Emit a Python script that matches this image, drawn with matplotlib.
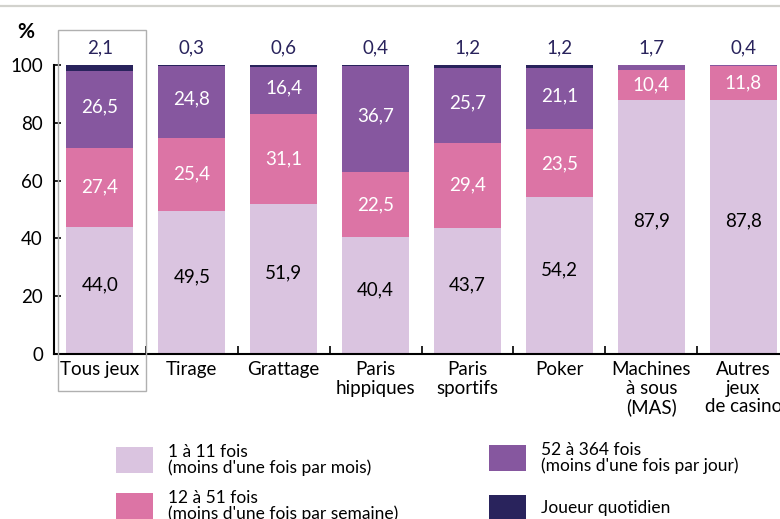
import matplotlib
matplotlib.use("Agg")
import matplotlib.pyplot as plt
from matplotlib.patches import Rectangle
from matplotlib.lines import Line2D
import numpy as np

plt.rcParams['font.family'] = ['Lato', 'DejaVu Sans']

categories = ["Tous jeux", "Tirage", "Grattage", "Paris\nhippiques", "Paris\nsportifs",
              "Poker", "Machines\nà sous\n(MAS)", "Autres\njeux\nde casino"]
s1 = [44.0, 49.5, 51.9, 40.4, 43.7, 54.2, 87.9, 87.8]   # 1 à 11 fois
s2 = [27.4, 25.4, 31.1, 22.5, 29.4, 23.5, 10.4, 11.8]   # 12 à 51 fois
s3 = [26.5, 24.8, 16.4, 36.7, 25.7, 21.1, 1.7, 0.4]     # 52 à 364 fois
s4 = [2.1, 0.3, 0.6, 0.4, 1.2, 1.2, 0.0, 0.0]           # Joueur quotidien
top_labels = ["2,1", "0,3", "0,6", "0,4", "1,2", "1,2", "1,7", "0,4"]

legend_labels = ["1 à 11 fois\n(moins d'une fois par mois)",
                 "12 à 51 fois\n(moins d'une fois par semaine)",
                 "52 à 364 fois\n(moins d'une fois par jour)",
                 "Joueur quotidien"]
colors = ["#dac4e0", "#dc74a5", "#86579f", "#29235c"]

W, H = 780, 519
fig = plt.figure(figsize=(W / 100, H / 100), dpi=100)

def fx(px): return px / W
def fy(py): return 1 - py / H

ax = fig.add_axes([fx(54), fy(354), fx(780) - fx(54), fy(65) - fy(354)])
x = np.arange(len(categories))
bw = 0.73
series = [s1, s2, s3, s4]
bottom = np.zeros(len(categories))
for vals, c in zip(series, colors):
    ax.bar(x, vals, bw, bottom=bottom, color=c, edgecolor='none', zorder=2)
    bottom += np.array(vals)

def fmt(v):
    return f"{v:.1f}".replace(".", ",")

fs = 13.5
for i in range(len(categories)):
    b1 = s1[i]
    ax.text(x[i], b1 / 2 + 2, fmt(s1[i]), ha='center', va='center', fontsize=fs, color='black')
    ax.text(x[i], b1 + s2[i] / 2, fmt(s2[i]), ha='center', va='center', fontsize=fs, color='white')
    if s3[i] > 5:
        ax.text(x[i], b1 + s2[i] + s3[i] / 2 + 1, fmt(s3[i]), ha='center', va='center', fontsize=fs, color='white')
    ax.text(x[i], 106, top_labels[i], ha='center', va='center', fontsize=fs, color='#29235c', clip_on=False)

ax.set_xlim(-0.5, 7.4)
ax.set_ylim(0, 100)
ax.set_yticks([0, 20, 40, 60, 80, 100])
ax.set_yticklabels(["0", "20", "40", "60", "80", "100"], fontsize=fs)
ax.set_xticks(x)
ax.set_xticklabels(categories, fontsize=fs, linespacing=1.12, va='top')
ax.tick_params(axis='x', which='major', length=0, pad=5)
ax.set_xticks(np.arange(0.5, 7.5, 1), minor=True)
ax.tick_params(axis='x', which='minor', direction='in', length=6, width=1.2, color='black')
ax.tick_params(axis='y', direction='in', length=5, width=1.2, pad=8)
for s in ['top', 'right']:
    ax.spines[s].set_visible(False)
ax.spines['left'].set_linewidth(1.5)
ax.spines['bottom'].set_linewidth(1.5)

fig.text(fx(26), fy(32), "%", ha='center', va='center', fontsize=15, fontweight='bold')

# highlight box around "Tous jeux"
fig.add_artist(Rectangle((fx(58), fy(391)), fx(146) - fx(58), fy(30) - fy(391),
                         transform=fig.transFigure, fill=False, edgecolor='#b0b0b0', linewidth=1.0))
# top gray line
fig.add_artist(Line2D([0, 1], [fy(6), fy(6)], transform=fig.transFigure, color='#d2d2cd', linewidth=1.6))

# legend
leg = [(116, 447, 0), (116, 493, 1), (489, 445, 2), (489, 495, 3)]
for px, py, k in leg:
    fig.add_artist(Rectangle((fx(px), fy(py + 26)), fx(37), 26 / H, transform=fig.transFigure,
                             facecolor=colors[k], edgecolor='none'))
    fig.text(fx(px + 52), fy(py + 13), legend_labels[k], ha='left', va='center', fontsize=12.5,
             linespacing=0.92)

fig.savefig("out.png", dpi=100)
